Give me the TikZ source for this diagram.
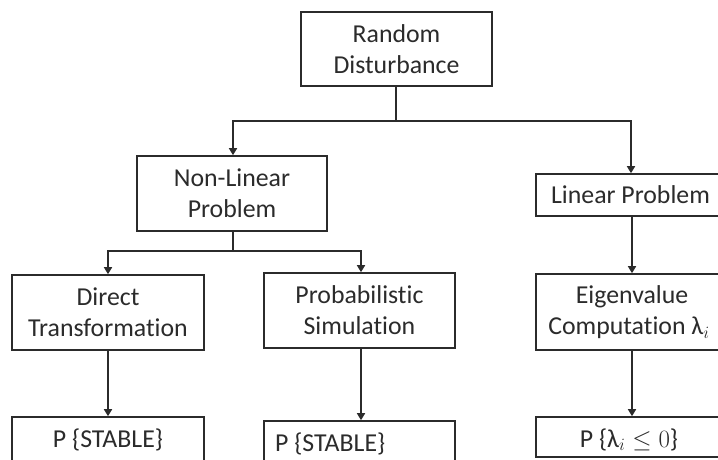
\documentclass[tikz,border=0pt]{standalone}
\usepackage{fontspec}
\setmainfont[Ligatures=NoCommon]{Carlito}
\usetikzlibrary{arrows.meta}
\definecolor{ink}{HTML}{2B2B2B}
\begin{document}
\begin{tikzpicture}[x=1pt,y=-1pt,
  box/.style={draw=ink,line width=1.6pt,text=ink,align=center,inner sep=0pt,
    font=\fontsize{25.8}{31}\selectfont},
  label/.style={text=ink,font=\fontsize{25.8}{31}\selectfont},
  link/.style={draw=ink,line width=1.6pt},
  arrow/.style={link,-{Triangle[width=8pt,length=7pt]}}]
\clip (0,0) rectangle (718,459);
\fill[white] (0,0) rectangle (718,459);

% top level
\node[box,minimum width=191pt,minimum height=74pt] (rd) at (396.5,49) {Random\\Disturbance};

% second level
\node[box,minimum width=190pt,minimum height=75pt] (nl) at (232,193.5) {Non-Linear\\Problem};
\node[box,minimum width=192pt,minimum height=42pt] (lp) at (632,195) {\hspace*{-3pt}Linear Problem};

% third level
\node[box,minimum width=192pt,minimum height=75pt] (dt) at (108,312.5) {Direct\\Transformation};
\node[box,minimum width=191pt,minimum height=75pt] (ps) at (359.5,310.5) {Probabilistic\\Simulation};
\node[box,minimum width=192pt,minimum height=76pt] (ec) at (632,312) {Eigenvalue\\\hspace*{-6pt}Computation λ$_i$};

% results (their lower edges run past the page)
\node[box,minimum width=192pt,minimum height=60pt] (p1) at (108,447) {};
\node[box,minimum width=191pt,minimum height=60pt] (p2) at (359.5,451) {};
\node[box,minimum width=192pt,minimum height=40pt] (p3) at (632,437) {};
\node[label,anchor=base] (t1) at (108,447) {P \{STABLE\}};
\node[label,anchor=base west,inner sep=0pt] (t2) at (275,451) {P \{STABLE\}};
\node[label,anchor=base] (t3) at (629,447) {P \{λ$_i \leq 0$\}};

% junctions
\coordinate (j1) at (396,121);
\coordinate (j2) at (233,251);

\draw[link] (rd.south -| j1) -- (j1);
\draw[arrow] (j1) -| ([xshift=1pt]nl.north);
\draw[arrow] (j1) -| ([xshift=-1pt]lp.north);

\draw[link] ([xshift=1pt]nl.south) -- (j2);
\draw[arrow] (j2) -| (dt.north);
\draw[arrow] (j2) -| ([xshift=1.5pt]ps.north);

\draw[arrow] (dt.south) -- (p1.north);
\draw[arrow] ([xshift=1.5pt]ps.south) -- ([xshift=1.5pt]p2.north);
\draw[arrow] (lp.south) -- (lp.south |- ec.north);
\draw[arrow] (ec.south) -- (ec.south |- p3.north);
\end{tikzpicture}
\end{document}
